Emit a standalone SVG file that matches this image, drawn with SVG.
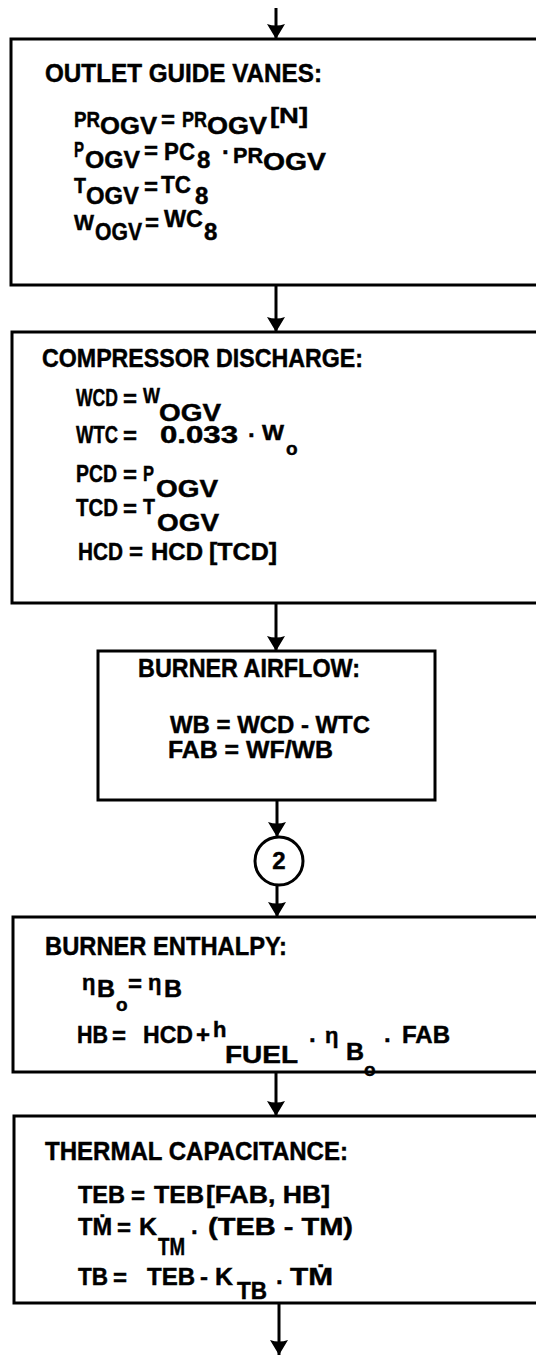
<svg xmlns="http://www.w3.org/2000/svg" width="536" height="1356" viewBox="0 0 536 1356">
<style>
.bx{fill:#fff;stroke:#000;stroke-width:3}
.cn{fill:none;stroke:#000;stroke-width:3;marker-end:url(#ah)}
text{font-family:"Liberation Sans","DejaVu Sans",Arial,sans-serif;font-weight:bold;fill:#000;stroke:#000;stroke-width:0.45}
.t{font-size:25px}
.m{font-size:24px}
.p{font-size:22px}
.s{font-size:24px}
.o{font-size:19px}
</style>
<defs>
<marker id="ah" viewBox="0 -9 15 18" refX="15" refY="0" markerWidth="15" markerHeight="18" markerUnits="userSpaceOnUse" orient="auto">
<path d="M0,-9 Q3,0 0,9 L15,0 Z" fill="#000"/>
</marker>
</defs>
<rect width="536" height="1356" fill="#fff"/>
<g id="connectors">
<path class="cn" d="M276,8 V39"/>
<path class="cn" d="M276,285 V332"/>
<path class="cn" d="M276,603 V651"/>
<path class="cn" d="M277,800 V837"/>
<path class="cn" d="M277,885 V917"/>
<path class="cn" d="M276,1072 V1116"/>
<path class="cn" d="M279,1303 V1355"/>
</g>
<g id="outlet-guide-vanes">
<rect class="bx" x="11" y="39" width="540" height="246"/>
<text class="t" x="45" y="82" textLength="277" lengthAdjust="spacingAndGlyphs">OUTLET GUIDE VANES:</text>
<text class="p" x="74" y="127" textLength="26" lengthAdjust="spacingAndGlyphs">PR</text>
<text class="s" x="100" y="134" textLength="57" lengthAdjust="spacingAndGlyphs">OGV</text>
<text class="m" x="161" y="128">=</text>
<text class="p" x="182" y="127" textLength="25" lengthAdjust="spacingAndGlyphs">PR</text>
<text class="s" x="207" y="134" textLength="60" lengthAdjust="spacingAndGlyphs">OGV</text>
<text class="p" x="270" y="123" textLength="38" lengthAdjust="spacingAndGlyphs">[N]</text>
<text class="p" x="74" y="157" textLength="10" lengthAdjust="spacingAndGlyphs">P</text>
<text class="s" x="85" y="168" textLength="55" lengthAdjust="spacingAndGlyphs">OGV</text>
<text class="m" x="144" y="159">=</text>
<text class="m" x="164" y="160" textLength="31" lengthAdjust="spacingAndGlyphs">PC</text>
<text class="s" x="197" y="168">8</text>
<text class="m" x="222" y="160">·</text>
<text class="p" x="233" y="163" textLength="30" lengthAdjust="spacingAndGlyphs">PR</text>
<text class="s" x="263" y="170" textLength="63" lengthAdjust="spacingAndGlyphs">OGV</text>
<text class="p" x="74" y="193" textLength="12" lengthAdjust="spacingAndGlyphs">T</text>
<text class="s" x="86" y="204" textLength="53" lengthAdjust="spacingAndGlyphs">OGV</text>
<text class="m" x="144" y="195">=</text>
<text class="m" x="161" y="193" textLength="30" lengthAdjust="spacingAndGlyphs">TC</text>
<text class="s" x="195" y="204">8</text>
<text class="p" x="74" y="230" textLength="20" lengthAdjust="spacingAndGlyphs">W</text>
<text class="s" x="95" y="240" textLength="47" lengthAdjust="spacingAndGlyphs">OGV</text>
<text class="m" x="145" y="231">=</text>
<text class="m" x="164" y="227" textLength="39" lengthAdjust="spacingAndGlyphs">WC</text>
<text class="s" x="204" y="240">8</text>
</g>
<g id="compressor-discharge">
<rect class="bx" x="12" y="332" width="540" height="271"/>
<text class="t" x="42" y="367" textLength="321" lengthAdjust="spacingAndGlyphs">COMPRESSOR DISCHARGE:</text>
<text class="m" x="76" y="406" textLength="42" lengthAdjust="spacingAndGlyphs">WCD</text>
<text class="m" x="123" y="407">=</text>
<text class="p" x="143" y="403" textLength="17" lengthAdjust="spacingAndGlyphs">W</text>
<text class="s" x="159" y="421" textLength="62" lengthAdjust="spacingAndGlyphs">OGV</text>
<text class="m" x="76" y="443" textLength="42" lengthAdjust="spacingAndGlyphs">WTC</text>
<text class="m" x="123" y="444">=</text>
<text class="m" x="160" y="443" textLength="78" lengthAdjust="spacingAndGlyphs">0.033</text>
<text class="m" x="248" y="443">·</text>
<text class="p" x="262" y="440" textLength="22" lengthAdjust="spacingAndGlyphs">W</text>
<text class="o" x="286" y="455">o</text>
<text class="m" x="76" y="482" textLength="41" lengthAdjust="spacingAndGlyphs">PCD</text>
<text class="m" x="123" y="483">=</text>
<text class="p" x="143" y="481" textLength="11" lengthAdjust="spacingAndGlyphs">P</text>
<text class="s" x="156" y="497" textLength="62" lengthAdjust="spacingAndGlyphs">OGV</text>
<text class="m" x="76" y="516" textLength="42" lengthAdjust="spacingAndGlyphs">TCD</text>
<text class="m" x="123" y="517">=</text>
<text class="p" x="143" y="514" textLength="12" lengthAdjust="spacingAndGlyphs">T</text>
<text class="s" x="157" y="531" textLength="62" lengthAdjust="spacingAndGlyphs">OGV</text>
<text class="m" x="78" y="560" textLength="45" lengthAdjust="spacingAndGlyphs">HCD</text>
<text class="m" x="129" y="560">=</text>
<text class="m" x="151" y="560" textLength="52" lengthAdjust="spacingAndGlyphs">HCD</text>
<text class="m" x="209" y="560" textLength="68" lengthAdjust="spacingAndGlyphs">[TCD]</text>
</g>
<g id="burner-airflow">
<rect class="bx" x="98" y="651" width="337" height="149"/>
<text class="t" x="138" y="677" textLength="222" lengthAdjust="spacingAndGlyphs">BURNER AIRFLOW:</text>
<text class="s" x="170" y="733" textLength="200" lengthAdjust="spacingAndGlyphs">WB = WCD - WTC</text>
<text class="s" x="168" y="758" textLength="165" lengthAdjust="spacingAndGlyphs">FAB = WF/WB</text>
</g>
<g id="connector-2">
<circle cx="279" cy="861" r="24" fill="#fff" stroke="#000" stroke-width="3"/>
<text class="m" x="279" y="869" text-anchor="middle">2</text>
</g>
<g id="burner-enthalpy">
<rect class="bx" x="13" y="917" width="540" height="155"/>
<text class="t" x="45" y="955" textLength="242" lengthAdjust="spacingAndGlyphs">BURNER ENTHALPY:</text>
<text class="p" x="82" y="990">η</text>
<text class="s" x="97" y="997" textLength="18" lengthAdjust="spacingAndGlyphs">B</text>
<text class="o" x="116" y="1011">o</text>
<text class="m" x="128" y="992">=</text>
<text class="p" x="148" y="990">η</text>
<text class="s" x="164" y="997" textLength="18" lengthAdjust="spacingAndGlyphs">B</text>
<text class="m" x="77" y="1043" textLength="31" lengthAdjust="spacingAndGlyphs">HB</text>
<text class="m" x="112" y="1044">=</text>
<text class="m" x="143" y="1043" textLength="50" lengthAdjust="spacingAndGlyphs">HCD</text>
<text class="m" x="196" y="1043">+</text>
<text class="p" x="213" y="1037">h</text>
<text class="s" x="225" y="1063" textLength="73" lengthAdjust="spacingAndGlyphs">FUEL</text>
<text class="m" x="309" y="1048">·</text>
<text class="p" x="325" y="1043">η</text>
<text class="s" x="346" y="1060" textLength="18" lengthAdjust="spacingAndGlyphs">B</text>
<text class="o" x="364" y="1076">o</text>
<text class="m" x="384" y="1048">·</text>
<text class="m" x="402" y="1043" textLength="48" lengthAdjust="spacingAndGlyphs">FAB</text>
</g>
<g id="thermal-capacitance">
<rect class="bx" x="14" y="1116" width="540" height="187"/>
<text class="t" x="45" y="1160" textLength="303" lengthAdjust="spacingAndGlyphs">THERMAL CAPACITANCE:</text>
<text class="m" x="78" y="1203" textLength="47" lengthAdjust="spacingAndGlyphs">TEB</text>
<text class="m" x="131" y="1204">=</text>
<text class="m" x="154" y="1203" textLength="50" lengthAdjust="spacingAndGlyphs">TEB</text>
<text class="m" x="206" y="1203" textLength="124" lengthAdjust="spacingAndGlyphs">[FAB, HB]</text>
<text class="m" x="78" y="1235" textLength="34" lengthAdjust="spacingAndGlyphs">TṀ</text>
<text class="m" x="117" y="1236">=</text>
<text class="m" x="139" y="1235" textLength="18" lengthAdjust="spacingAndGlyphs">K</text>
<text class="s" x="158" y="1255" textLength="27" lengthAdjust="spacingAndGlyphs">TM</text>
<text class="m" x="191" y="1240">·</text>
<text class="m" x="208" y="1235" textLength="145" lengthAdjust="spacingAndGlyphs">(TEB - TM)</text>
<text class="m" x="78" y="1285" textLength="30" lengthAdjust="spacingAndGlyphs">TB</text>
<text class="m" x="113" y="1286">=</text>
<text class="m" x="147" y="1285" textLength="48" lengthAdjust="spacingAndGlyphs">TEB</text>
<text class="m" x="200" y="1285">-</text>
<text class="m" x="215" y="1285" textLength="18" lengthAdjust="spacingAndGlyphs">K</text>
<text class="s" x="237" y="1299" textLength="30" lengthAdjust="spacingAndGlyphs">TB</text>
<text class="m" x="276" y="1290">·</text>
<text class="m" x="290" y="1285" textLength="43" lengthAdjust="spacingAndGlyphs">TṀ</text>
</g>
</svg>
